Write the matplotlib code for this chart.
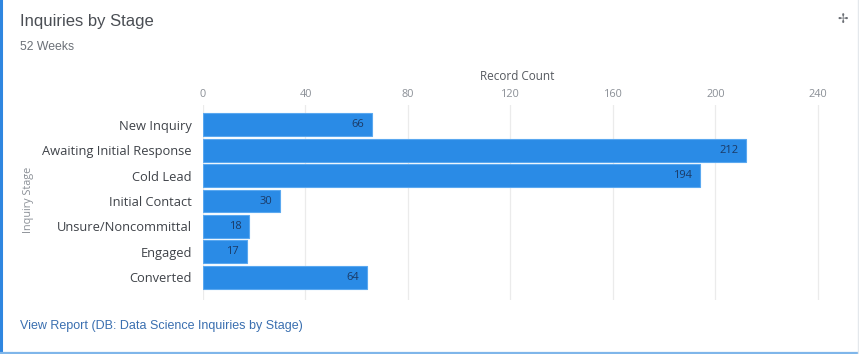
import matplotlib as mpl
mpl.use('Agg')
import matplotlib.pyplot as plt
from matplotlib.lines import Line2D


stages = ["New Inquiry", "Awaiting Initial Response", "Cold Lead",
          "Initial Contact", "Unsure/Noncommittal", "Engaged", "Converted"]
record_counts = [66, 212, 194, 30, 18, 17, 64]
x_ticks = [0, 40, 80, 120, 160, 200, 240]

BAR_BLUE = "#2a8be6"
LABEL_NAVY = "#1b3a66"
MUTED = "#8a8f96"
HEADER_FONT = ['Liberation Sans', 'DejaVu Sans']

plt.rcParams['font.family'] = ['Open Sans', 'DejaVu Sans']

fig = plt.figure(figsize=(8.59, 3.54), dpi=100)
fig.patch.set_facecolor("white")

ax = fig.add_axes([0.2363, 0.153, 0.7307, 0.55])

rows = list(range(len(stages)))
ax.barh(rows, record_counts, height=0.9, color=BAR_BLUE,
        edgecolor="#5aa8f0", linewidth=0.8, zorder=3)

for y, v in zip(rows, record_counts):
    ax.text(v - 3, y, str(v), ha="right", va="center",
            fontsize=8, color=LABEL_NAVY, zorder=4)

ax.set_xlim(0, 245)
ax.set_ylim(6.88, -0.765)

ax.set_xticks(x_ticks)
ax.xaxis.tick_top()
ax.xaxis.set_label_position("top")
ax.tick_params(axis="x", length=0, pad=4, labelsize=7.8, labelcolor=MUTED)
ax.set_xlabel("Record Count", fontsize=8.5, color="#55595f", labelpad=6)

ax.set_yticks(rows)
ax.set_yticklabels(stages)
ax.tick_params(axis="y", length=0, pad=8, labelsize=9.3, labelcolor="#3e4248")

ax.grid(axis="x", color="#ebebeb", linewidth=0.9, zorder=0)
for side in ax.spines.values():
    side.set_visible(False)

fig.text(0.033, 0.435, "Inquiry Stage", rotation=90, ha="center", va="center",
         fontsize=7.8, color=MUTED)

# card header / footer
fig.text(0.023, 0.94, "Inquiries by Stage", fontsize=12, color="#4a4e54",
         ha="left", va="center", family=HEADER_FONT)
fig.text(0.023, 0.868, "52 Weeks", fontsize=8.8, color="#6b7077",
         ha="left", va="center", family=HEADER_FONT)
fig.text(0.023, 0.08, "View Report (DB: Data Science Inquiries by Stage)",
         fontsize=9.0, color="#3a6fb0", ha="left", va="center",
         family=HEADER_FONT)
fig.text(0.981, 0.945, "\u2722", fontsize=9, color="#6b6f75",
         ha="center", va="center", family=['DejaVu Sans'])

# card edges
fig.add_artist(Line2D([0.0015, 0.0015], [0.0, 1.0], color="#2f86e0",
                      linewidth=2.2, transform=fig.transFigure))
fig.add_artist(Line2D([0.0, 1.0], [0.004, 0.004], color="#7fb6ea",
                      linewidth=1.6, transform=fig.transFigure))
fig.add_artist(Line2D([0.999, 0.999], [0.0, 1.0], color="#e4e8ec",
                      linewidth=1.0, transform=fig.transFigure))

fig.savefig("out.png", dpi=100)
